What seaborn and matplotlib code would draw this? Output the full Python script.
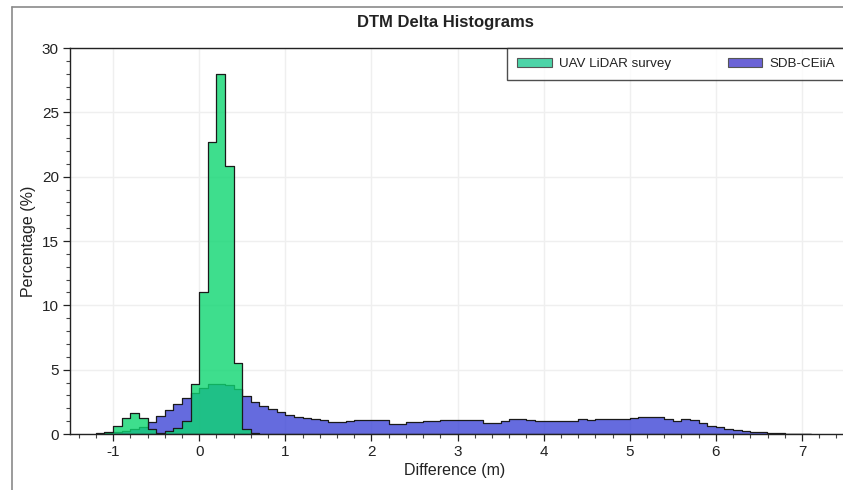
import numpy as np
import pandas as pd
import matplotlib
matplotlib.use("Agg")
import matplotlib.pyplot as plt
import seaborn as sns
from matplotlib.patches import Patch
from matplotlib.lines import Line2D
from matplotlib.ticker import MultipleLocator

# ---- data (percent per 0.1 m bin) ----
bin_width = 0.1
green_start = -1.2
green_pct = [0.05, 0.15, 0.62, 1.22, 1.6, 1.22, 0.35, 0.1, 0.2, 0.5, 1.0,
             3.85, 11.05, 22.7, 28.0, 20.8, 5.55, 0.4, 0.05]
blue_start = -1.2
blue_pct = [0.03, 0.08, 0.15, 0.25, 0.35, 0.55, 0.9, 1.4, 1.9, 2.3, 2.8,   # -1.2 .. -0.2
            3.2, 3.6, 3.85, 3.9, 3.8, 3.5,                                  # -0.1 .. 0.4
            2.95, 2.5, 2.18, 1.92, 1.73,                                    # 0.5 .. 0.9
            1.45, 1.35, 1.25, 1.15, 1.05, 0.9, 0.95, 1.02, 1.08, 1.1,       # 1.0 .. 1.9
            1.05, 1.06, 0.8, 0.8, 0.92, 0.95, 0.98, 1.0, 1.08, 1.1,         # 2.0 .. 2.9
            1.1, 1.1, 1.05, 0.88, 0.88, 1.0, 1.14, 1.14, 1.12, 1.0,         # 3.0 .. 3.9
            0.98, 0.98, 1.0, 1.02, 1.14, 1.12, 1.17, 1.17, 1.18, 1.2,       # 4.0 .. 4.9
            1.22, 1.35, 1.3, 1.35, 1.2, 1.0, 1.14, 1.12, 0.85, 0.6,         # 5.0 .. 5.9
            0.55, 0.42, 0.3, 0.22, 0.18, 0.15, 0.1, 0.05, 0.03, 0.03,       # 6.0 .. 6.9
            0.02]                                                           # 7.0
labels = ["UAV LiDAR survey", "SDB-CEiiA"]
title = "DTM Delta Histograms"
x_ticks = [-1, 0, 1, 2, 3, 4, 5, 6, 7]
y_ticks = [0, 5, 10, 15, 20, 25, 30]


def hist_frame(start, values):
    n = len(values)
    edges = np.round(start + bin_width * np.arange(n + 1), 3)
    centers = (edges[:-1] + edges[1:]) / 2
    return pd.DataFrame({"x": centers, "w": np.asarray(values, float)}), list(edges)


g_df, g_edges = hist_frame(green_start, green_pct)
b_df, b_edges = hist_frame(blue_start, blue_pct)

sns.set_theme(style="white")
plt.rcParams["font.family"] = ["Liberation Sans", "DejaVu Sans"]
plt.rcParams["axes.unicode_minus"] = False

W, H = 843, 490
fig = plt.figure(figsize=(W / 100, H / 100), dpi=100)
fig.patch.set_facecolor("white")
ax = fig.add_axes([70 / W, 1 - 434 / H, (845 - 70) / W, (434 - 48) / H])

green = (14 / 255, 214 / 255, 113 / 255)
blue = (62 / 255, 70 / 255, 214 / 255)

sns.histplot(data=b_df, x="x", weights="w", bins=b_edges, element="step",
             fill=True, color=blue, alpha=0.8, edgecolor="#1a1a1a",
             linewidth=0.9, ax=ax)
sns.histplot(data=g_df, x="x", weights="w", bins=g_edges, element="step",
             fill=True, color=green, alpha=0.8, edgecolor="#1a1a1a",
             linewidth=0.9, ax=ax)

ax.set_xlim(-1.5, 7.5)
ax.set_ylim(0, 30)
ax.set_xticks(x_ticks)
ax.set_yticks(y_ticks)
ax.xaxis.set_minor_locator(MultipleLocator(0.2))
ax.yaxis.set_minor_locator(MultipleLocator(1))
ax.tick_params(axis="both", which="major", direction="out", length=5,
               width=0.9, color="#222222", labelsize=11, labelcolor="#222222",
               bottom=True, left=True, pad=3)
ax.tick_params(axis="both", which="minor", direction="out", length=3,
               width=0.8, color="#444444", bottom=True, left=True)
ax.grid(True, which="major", color="#efefef", linewidth=1.0)
ax.set_axisbelow(True)

for side in ["left", "bottom", "top"]:
    ax.spines[side].set_visible(True)
    ax.spines[side].set_color("#222222")
    ax.spines[side].set_linewidth(1.0)
ax.spines["right"].set_visible(False)

ax.set_xlabel("Difference (m)", fontsize=11.5, color="#222222")
ax.set_ylabel("Percentage (%)", fontsize=11.5, color="#222222")
ax.xaxis.set_label_coords((455 - 70) / 775, (434 - 471) / 386)
ax.xaxis.label.set_va("center")
ax.yaxis.set_label_coords((28 - 70) / 775, 0.5)
ax.yaxis.label.set_va("center")

fig.text(0.528, 1 - 22 / H, title, ha="center", va="center",
         fontsize=12, fontweight="bold", color="#222222")

handles = [Patch(facecolor=(0.30, 0.83, 0.66), edgecolor="#555555", linewidth=0.8),
           Patch(facecolor=(0.42, 0.39, 0.84), edgecolor="#555555", linewidth=0.8)]
leg = ax.legend(handles, labels, loc="upper right", bbox_to_anchor=(1.0, 1.0),
                ncol=2, frameon=True, fancybox=False, fontsize=9.6,
                borderaxespad=0, handlelength=2.6, handleheight=0.6,
                columnspacing=4.2, handletextpad=0.55, borderpad=0.75)
leg.get_frame().set_edgecolor("#222222")
leg.get_frame().set_linewidth(1.0)
for t in leg.get_texts():
    t.set_color("#222222")

# figure frame (left and top border)
fig.add_artist(Line2D([12 / W, 12 / W], [0, 1 - 7 / H], transform=fig.transFigure,
                      color="#8a8a8a", linewidth=1.2))
fig.add_artist(Line2D([12 / W, 1], [1 - 7 / H, 1 - 7 / H], transform=fig.transFigure,
                      color="#8a8a8a", linewidth=1.2))

fig.savefig("out.png", dpi=100, facecolor="white")
